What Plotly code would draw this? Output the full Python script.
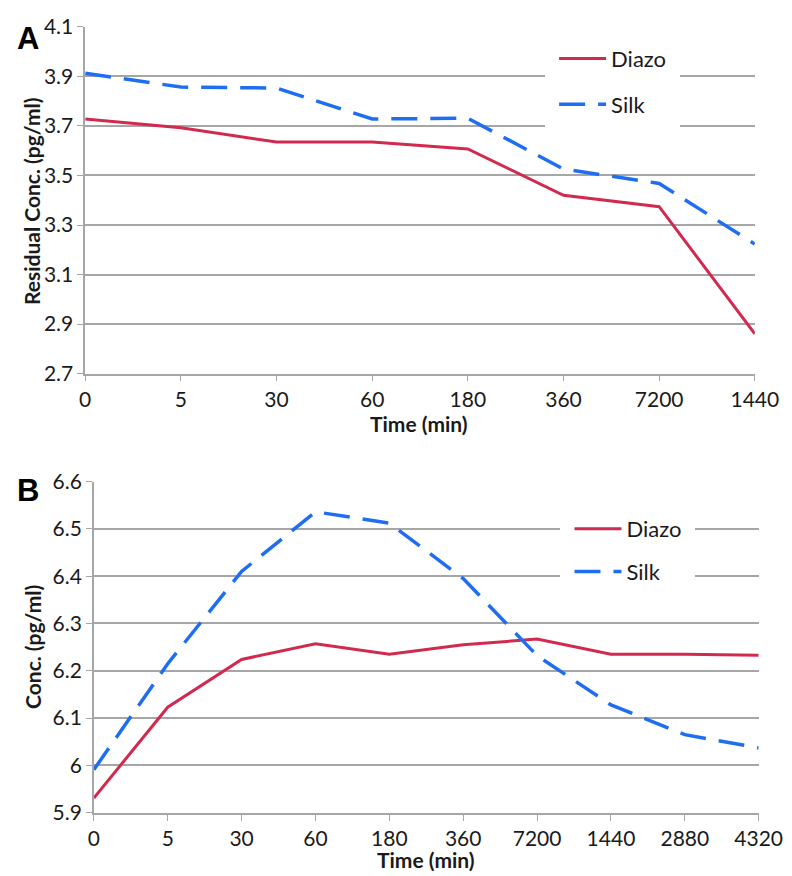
import plotly.graph_objects as go

# ---------------- data ----------------
time_a = ["0", "5", "30", "60", "180", "360", "7200", "1440"]
diazo_a = [3.728, 3.693, 3.635, 3.635, 3.607, 3.420, 3.374, 2.861]
silk_a = [3.913, 3.857, 3.853, 3.728, 3.731, 3.526, 3.468, 3.223]

time_b = ["0", "5", "30", "60", "180", "360", "7200", "1440", "2880", "4320"]
diazo_b = [5.931, 6.123, 6.224, 6.257, 6.235, 6.255, 6.267, 6.235, 6.235, 6.233]
silk_b = [5.991, 6.215, 6.410, 6.536, 6.512, 6.395, 6.232, 6.128, 6.065, 6.037]

yticks_a = [2.7, 2.9, 3.1, 3.3, 3.5, 3.7, 3.9, 4.1]
yticks_b = [5.9, 6.0, 6.1, 6.2, 6.3, 6.4, 6.5, 6.6]
yticktext_b = ["5.9", "6", "6.1", "6.2", "6.3", "6.4", "6.5", "6.6"]

RED = "#d22a4e"
BLUE = "#1f6ef2"
GRID = "#a6a6a6"
FONT = "Lato"
W, H = 792, 876

fig = go.Figure()

# Panel A
fig.add_trace(go.Scatter(x=time_a, y=diazo_a, mode="lines", name="Diazo",
                         line=dict(color=RED, width=3), xaxis="x", yaxis="y",
                         legend="legend", legendgroup="a1"))
fig.add_trace(go.Scatter(x=time_a, y=silk_a, mode="lines", name="Silk",
                         line=dict(color=BLUE, width=3.5, dash="26px,13px"),
                         xaxis="x", yaxis="y", legend="legend", legendgroup="a2"))
# Panel B
fig.add_trace(go.Scatter(x=time_b, y=diazo_b, mode="lines", name="Diazo",
                         line=dict(color=RED, width=3), xaxis="x2", yaxis="y2",
                         legend="legend2", legendgroup="b1"))
fig.add_trace(go.Scatter(x=time_b, y=silk_b, mode="lines", name="Silk",
                         line=dict(color=BLUE, width=3.5, dash="26px,13px"),
                         xaxis="x2", yaxis="y2", legend="legend2", legendgroup="b2"))

def px_x(p):
    return p / W

def px_y(p):
    return 1 - p / H

TXT = "#1a1a1a"
tickfont = dict(family=FONT, size=21, color=TXT)

xcommon = dict(type="category", showgrid=False, showline=True, linecolor=GRID,
               linewidth=1.5, ticks="outside", ticklen=6, tickcolor=GRID,
               tickfont=tickfont, zeroline=False, fixedrange=True)
ycommon = dict(showgrid=True, gridcolor=GRID, gridwidth=1.5, showline=True,
               linecolor=GRID, linewidth=1.5, ticks="outside", ticklen=6,
               tickcolor=GRID, tickfont=tickfont, zeroline=False)

fig.update_layout(
    width=W, height=H,
    margin=dict(l=0, r=0, t=0, b=0),
    paper_bgcolor="white", plot_bgcolor="white",
    font=dict(family=FONT, color=TXT),
    xaxis=dict(domain=[px_x(74), px_x(770)], anchor="y",
               range=[0, len(time_a) - 1], **xcommon),
    yaxis=dict(domain=[px_y(362), px_y(5)], anchor="x",
               range=[2.7, 4.1], tickvals=yticks_a,
               ticktext=[f"{v:.1f}" for v in yticks_a], **ycommon),
    xaxis2=dict(domain=[px_x(83), px_x(774)], anchor="y2",
                range=[0, len(time_b) - 1], **xcommon),
    yaxis2=dict(domain=[px_y(814), px_y(473)], anchor="x2",
                range=[5.9, 6.6], tickvals=yticks_b, ticktext=yticktext_b,
                **ycommon),
    legend=dict(x=px_x(552), y=px_y(7), xanchor="left", yanchor="top",
                bgcolor="white", bordercolor="white", borderwidth=9,
                font=dict(family=FONT, size=22, color=TXT),
                itemwidth=47, tracegroupgap=14, traceorder="grouped"),
    legend2=dict(x=px_x(568), y=px_y(491), xanchor="left", yanchor="top",
                 bgcolor="white", bordercolor="white", borderwidth=9,
                 font=dict(family=FONT, size=22, color=TXT),
                 itemwidth=47, tracegroupgap=11, traceorder="grouped"),
    showlegend=True,
)

annots = [
    dict(text="<b>A</b>", x=px_x(15), y=px_y(17), font=dict(family="Liberation Sans", size=31, color="black")),
    dict(text="<b>B</b>", x=px_x(15), y=px_y(482), font=dict(family="Liberation Sans", size=31, color="black")),
    dict(text="<b>Time (min)</b>", x=px_x(421), y=px_y(413), font=dict(family=FONT, size=21, color=TXT)),
    dict(text="<b>Time (min)</b>", x=px_x(428), y=px_y(862), font=dict(family=FONT, size=21, color=TXT)),
    dict(text="<b>Residual Conc. (pg/ml)</b>", x=px_x(18), y=px_y(184), textangle=-90,
         font=dict(family=FONT, size=21, color=TXT)),
    dict(text="<b>Conc. (pg/ml)</b>", x=px_x(19), y=px_y(643), textangle=-90,
         font=dict(family=FONT, size=21, color=TXT)),
]
for a in annots:
    fig.add_annotation(xref="paper", yref="paper", showarrow=False,
                       xanchor="center", yanchor="middle", **a)

fig.write_html("out.html")
